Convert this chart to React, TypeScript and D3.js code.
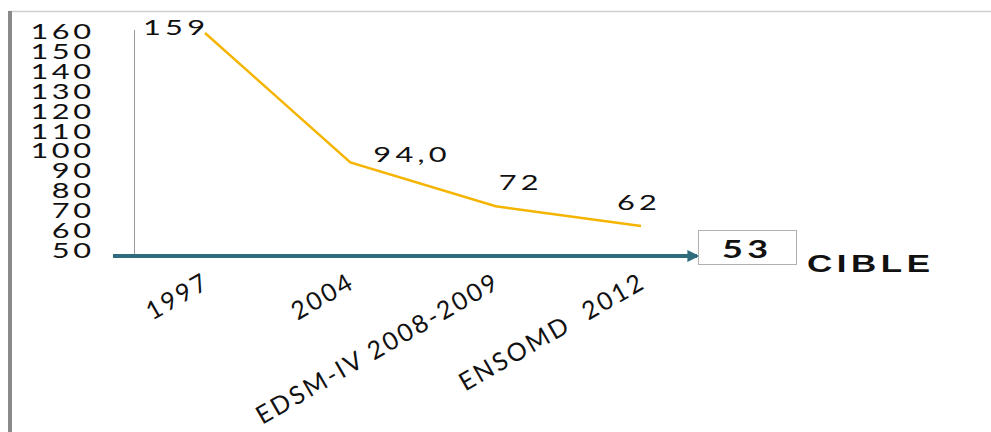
import React from "react";
import * as d3 from "d3";

const categories = ["1997", "2004", "EDSM-IV 2008-2009", "ENSOMD  2012"];
const values = [159, 94, 72, 62];
const valueLabels = ["159", "94,0", "72", "62"];
const yTicks = [50, 60, 70, 80, 90, 100, 110, 120, 130, 140, 150, 160];
const targetValue = "53";
const targetLabel = "CIBLE";

const FONT = "Lato, 'Open Sans', sans-serif";

function WideText(props: {
  x: number;
  y: number;
  sx?: number;
  anchor?: "start" | "middle" | "end";
  size: number;
  ls?: number;
  bold?: boolean;
  family?: string;
  children: React.ReactNode;
}) {
  const { x, y, sx = 1.45, anchor = "start", size, ls = 3, bold, family = FONT } = props;
  const shift = anchor === "end" ? ls : anchor === "middle" ? ls / 2 : 0;
  return (
    <g transform={`translate(${x},${y}) scale(${sx},1)`}>
      <text
        x={shift}
        y={0}
        textAnchor={anchor}
        fontFamily={family}
        fontSize={size}
        fontWeight={bold ? "bold" : "normal"}
        letterSpacing={ls}
        fill="#111"
        style={{ whiteSpace: "pre" }}
      >
        {props.children}
      </text>
    </g>
  );
}

export default function App() {
  const W = 991;
  const H = 432;
  const x = d3.scalePoint<string>().domain(categories).range([205, 641]);
  const y = d3.scaleLinear().domain([50, 160]).range([250, 31]);
  const line = d3
    .line<number>()
    .x((_, i) => x(categories[i]) as number)
    .y((d) => y(d));
  const labelOffsets: { dx: number; dy: number; anchor: "start" | "end" }[] = [
    { dx: 0, dy: 2, anchor: "end" },
    { dx: 23, dy: 0, anchor: "start" },
    { dx: 3, dy: -16, anchor: "start" },
    { dx: -24, dy: -16, anchor: "start" },
  ];
  const catLs = 2.5;
  return (
    <svg
      width={W}
      height={H}
      style={{ position: "absolute", left: 0, top: 0, background: "#fff" }}
    >
      <defs>
        <marker
          id="arr"
          viewBox="0 0 10 10"
          refX="8"
          refY="5"
          markerWidth="3"
          markerHeight="3"
          orient="auto"
        >
          <path d="M0,0 L10,5 L0,10 z" fill="#2f6b7c" />
        </marker>
      </defs>
      {/* frame */}
      <line x1={9} y1={11.5} x2={W} y2={11.5} stroke="#d0d0d0" strokeWidth={1.5} />
      <line x1={10} y1={11} x2={10} y2={H} stroke="#8a8a8a" strokeWidth={4} />
      {/* y tick labels */}
      {yTicks.map((t) => (
        <WideText key={t} x={91} y={y(t) + 8} anchor="end" size={22} ls={2.5} sx={1.4}>
          {t}
        </WideText>
      ))}
      {/* vertical axis */}
      <line x1={134.5} y1={30} x2={134.5} y2={254} stroke="#9a9a9a" strokeWidth={1} />
      {/* horizontal arrow axis */}
      <line
        x1={113}
        y1={256}
        x2={697}
        y2={256}
        stroke="#2f6b7c"
        strokeWidth={4}
        markerEnd="url(#arr)"
      />
      {/* line */}
      <path d={line(values) || ""} fill="none" stroke="#f4b400" strokeWidth={2.5} />
      {/* value labels */}
      {values.map((v, i) => (
        <WideText
          key={i}
          x={(x(categories[i]) as number) + labelOffsets[i].dx}
          y={y(v) + labelOffsets[i].dy}
          anchor={labelOffsets[i].anchor}
          size={22}
          ls={3}
          sx={1.4}
        >
          {valueLabels[i]}
        </WideText>
      ))}
      {/* category labels */}
      {categories.map((c) => {
        const cx = (x(c) as number) + 4;
        const cy = 288;
        return (
          <g key={c} transform={`translate(${cx},${cy}) rotate(-30)`}>
            <text
              x={catLs}
              textAnchor="end"
              fontFamily={FONT}
              fontSize={25}
              letterSpacing={catLs}
              fill="#111"
              style={{ whiteSpace: "pre" }}
            >
              {c}
            </text>
          </g>
        );
      })}
      {/* target box */}
      <rect x={698.5} y={230.5} width={98} height={34} fill="#fff" stroke="#b0b0b0" strokeWidth={1} />
      <WideText x={745} y={258} anchor="middle" size={24} ls={3} sx={1.5} bold>
        {targetValue}
      </WideText>
      <WideText
        x={807}
        y={272}
        anchor="start"
        size={23}
        ls={3}
        sx={1.52}
        bold
        family="'Liberation Sans', Arial, sans-serif"
      >
        {targetLabel}
      </WideText>
    </svg>
  );
}
